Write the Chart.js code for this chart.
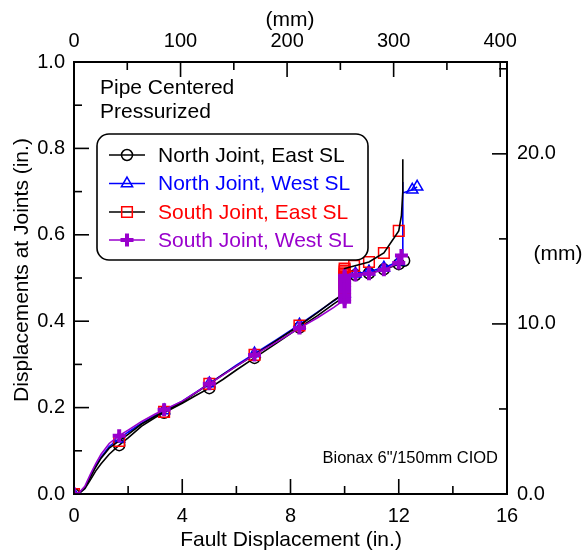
<!DOCTYPE html>
<html lang="en">
<head>
<meta charset="UTF-8">
<title>Displacements at Joints</title>
<script src="https://cdn.jsdelivr.net/npm/chart.js"></script>
<style>
  html, body { margin: 0; padding: 0; background: #fff; }
  #chart { display: block; }
</style>
</head>
<body>
<canvas id="chart" width="587" height="559"></canvas>
<script>

// fault displacement (in.) vs joint displacement (in.)
// lines are the full records, marks are the plotted symbols

// North Joint, East SL
const neLineX = [0, 0.2, 0.4, 0.6, 0.8, 1.0, 1.3, 1.67, 2.0, 2.5, 3.0, 3.33, 4.0, 4.5, 5.0, 5.5, 6.0, 6.67, 7.5, 8.33, 9.0, 9.6, 10.0, 10.03, 10.4, 10.9, 11.45, 12.0, 12.2];
const neLineY = [0, 0.002, 0.012, 0.032, 0.053, 0.07, 0.092, 0.113, 0.13, 0.157, 0.177, 0.188, 0.21, 0.228, 0.245, 0.265, 0.287, 0.315, 0.35, 0.385, 0.413, 0.44, 0.457, 0.5, 0.507, 0.511, 0.52, 0.532, 0.54];
const neMarkX = [0, 1.67, 3.33, 5.0, 6.67, 8.33, 10.0, 10.4, 10.9, 11.45, 12.0, 12.2];
const neMarkY = [0, 0.113, 0.188, 0.245, 0.315, 0.385, 0.457, 0.507, 0.511, 0.52, 0.532, 0.54];

// North Joint, West SL
const nwLineX = [0, 0.2, 0.4, 0.6, 0.8, 1.0, 1.3, 1.67, 2.0, 2.5, 3.0, 3.33, 4.0, 4.5, 5.0, 5.5, 6.0, 6.67, 7.5, 8.33, 9.0, 9.6, 10.0, 10.03, 10.4, 10.9, 11.45, 12.0, 12.15, 12.15, 12.15, 12.5, 12.68];
const nwLineY = [0, 0.003, 0.015, 0.04, 0.065, 0.085, 0.11, 0.128, 0.143, 0.164, 0.182, 0.193, 0.215, 0.235, 0.256, 0.277, 0.298, 0.325, 0.358, 0.392, 0.421, 0.447, 0.464, 0.503, 0.51, 0.515, 0.524, 0.538, 0.55, 0.722, 0.697, 0.704, 0.711];
const nwMarkX = [0, 1.67, 3.33, 5.0, 6.67, 8.33, 10.0, 10.4, 10.9, 11.45, 12.0, 12.5, 12.68];
const nwMarkY = [0, 0.128, 0.193, 0.256, 0.325, 0.392, 0.464, 0.51, 0.515, 0.524, 0.538, 0.704, 0.711];

// South Joint, East SL
const seLineX = [0, 0.2, 0.4, 0.6, 0.8, 1.0, 1.3, 1.67, 2.0, 2.5, 3.0, 3.33, 4.0, 4.5, 5.0, 5.5, 6.0, 6.67, 7.5, 8.33, 9.0, 9.6, 10.0, 10.0, 10.35, 10.9, 11.45, 12.0, 12.1, 12.15, 12.15];
const seLineY = [0, 0.003, 0.014, 0.038, 0.062, 0.083, 0.106, 0.123, 0.138, 0.162, 0.18, 0.19, 0.213, 0.234, 0.255, 0.276, 0.296, 0.322, 0.356, 0.39, 0.42, 0.448, 0.465, 0.522, 0.528, 0.537, 0.558, 0.609, 0.645, 0.7, 0.775];
const seMarkX = [0, 1.67, 3.33, 5.0, 6.67, 8.33, 10.0, 10.0, 10.0, 10.0, 10.0, 10.0, 10.0, 10.0, 10.0, 10.0, 10.0, 10.0, 10.0, 10.0, 10.35, 10.9, 11.45, 12.0];
const seMarkY = [0, 0.123, 0.19, 0.255, 0.322, 0.39, 0.47, 0.476, 0.482, 0.487, 0.491, 0.494, 0.497, 0.5, 0.503, 0.506, 0.509, 0.513, 0.517, 0.522, 0.528, 0.537, 0.558, 0.609];

// South Joint, West SL
const swLineX = [0, 0.2, 0.4, 0.6, 0.8, 1.0, 1.3, 1.67, 2.0, 2.5, 3.0, 3.33, 4.0, 4.5, 5.0, 5.5, 6.0, 6.67, 7.5, 8.33, 9.0, 9.6, 10.0, 10.0, 10.4, 10.9, 11.45, 12.0, 12.1];
const swLineY = [0, 0.004, 0.018, 0.045, 0.07, 0.092, 0.117, 0.135, 0.148, 0.168, 0.185, 0.195, 0.215, 0.235, 0.255, 0.275, 0.296, 0.322, 0.352, 0.384, 0.408, 0.432, 0.45, 0.505, 0.507, 0.51, 0.519, 0.535, 0.552];
const swMarkX = [0, 1.67, 3.33, 5.0, 6.67, 8.33, 10.0, 10.0, 10.0, 10.0, 10.0, 10.0, 10.0, 10.0, 10.0, 10.4, 10.9, 11.45, 12.0, 12.1];
const swMarkY = [0, 0.135, 0.195, 0.255, 0.322, 0.384, 0.445, 0.452, 0.46, 0.468, 0.476, 0.484, 0.492, 0.5, 0.505, 0.507, 0.51, 0.519, 0.535, 0.552];

// axis tick values
const xTicks = [0, 2, 4, 6, 8, 10, 12, 14, 16];
const yTicks = [0, 0.1, 0.2, 0.3, 0.4, 0.5, 0.6, 0.7, 0.8, 0.9, 1.0];
const mmTopTicks = [0, 50, 100, 150, 200, 250, 300, 350, 400];
const mmRightTicks = [0, 5, 10, 15, 20, 25];

const seriesNames = ['North Joint, East SL', 'North Joint, West SL', 'South Joint, East SL', 'South Joint, West SL'];
const noteLines = ['Pipe Centered', 'Pressurized'];
const pipeNote = 'Bionax 6"/150mm CIOD';

const FONT = "'Liberation Sans', Arial, sans-serif";
const PURPLE = '#9900cc';

function pts(xs, ys) {
  return xs.map((x, i) => ({ x: x, y: ys[i] }));
}

// symbol style per series, also used for the legend samples
const series = [
  { name: seriesNames[0], text: '#000', line: '#000', mark: '#000', style: 'circle', r: 5.5, bw: 1.5, order: 3 },
  { name: seriesNames[1], text: '#0000ff', line: '#0000ff', mark: '#0000ff', style: 'triangle', r: 6.5, bw: 1.5, order: 2 },
  { name: seriesNames[2], text: '#ff0000', line: '#000', mark: '#ff0000', style: 'rect', r: 7.5, bw: 1.5, order: 1 },
  { name: seriesNames[3], text: PURPLE, line: PURPLE, mark: PURPLE, style: 'cross', r: 6.5, bw: 4, order: 0 }
];
const lineData = [pts(neLineX, neLineY), pts(nwLineX, nwLineY), pts(seLineX, seLineY), pts(swLineX, swLineY)];
const markData = [pts(neMarkX, neMarkY), pts(nwMarkX, nwMarkY), pts(seMarkX, seMarkY), pts(swMarkX, swMarkY)];

const datasets = [];
series.forEach((s, i) => {
  datasets.push({
    label: s.name,
    data: lineData[i],
    borderColor: s.line,
    borderWidth: 1.6,
    pointRadius: 0,
    fill: false,
    tension: 0,
    order: s.order
  });
  datasets.push({
    label: s.name + ' marks',
    data: markData[i],
    showLine: false,
    pointStyle: s.style,
    pointRadius: s.r,
    pointBorderColor: s.mark,
    pointBackgroundColor: 'rgba(0,0,0,0)',
    pointBorderWidth: s.bw,
    order: s.order
  });
});

// inward tick marks, titles, notes and the rounded legend box
const decor = {
  id: 'decor',
  afterDraw(chart) {
    const ctx = chart.ctx;
    const a = chart.chartArea;
    ctx.save();

    // tick marks pointing into the plot
    ctx.strokeStyle = '#000';
    ctx.lineWidth = 1.6;
    ['x', 'x2', 'y', 'y2'].forEach(id => {
      const sc = chart.scales[id];
      sc.ticks.forEach(t => {
        const len = t.label === '' ? 8 : 15;
        const p = sc.getPixelForValue(t.value);
        ctx.beginPath();
        if (id === 'x') { ctx.moveTo(p, a.bottom); ctx.lineTo(p, a.bottom - len); }
        if (id === 'x2') { ctx.moveTo(p, a.top); ctx.lineTo(p, a.top + len); }
        if (id === 'y') { ctx.moveTo(a.left, p); ctx.lineTo(a.left + len, p); }
        if (id === 'y2') { ctx.moveTo(a.right, p); ctx.lineTo(a.right - len, p); }
        ctx.stroke();
      });
    });

    ctx.fillStyle = '#000';
    ctx.textBaseline = 'middle';

    // axis titles
    ctx.font = '21px ' + FONT;
    ctx.textAlign = 'center';
    ctx.fillText('Fault Displacement (in.)', 291, 540);
    ctx.fillText('(mm)', 290, 20);
    ctx.fillText('(mm)', 558, 254);
    ctx.save();
    ctx.translate(22, 270);
    ctx.rotate(-Math.PI / 2);
    ctx.fillText('Displacements at Joints (in.)', 0, 0);
    ctx.restore();

    // notes
    ctx.textAlign = 'left';
    ctx.fillText(noteLines[0], 100, 88);
    ctx.fillText(noteLines[1], 100, 112);
    ctx.font = '16.5px ' + FONT;
    ctx.textAlign = 'right';
    ctx.fillText(pipeNote, 498, 458);

    // legend
    const bx = 97, by = 134, bw = 271, bh = 126, rad = 12;
    ctx.beginPath();
    ctx.moveTo(bx + rad, by);
    ctx.arcTo(bx + bw, by, bx + bw, by + bh, rad);
    ctx.arcTo(bx + bw, by + bh, bx, by + bh, rad);
    ctx.arcTo(bx, by + bh, bx, by, rad);
    ctx.arcTo(bx, by, bx + bw, by, rad);
    ctx.closePath();
    ctx.fillStyle = '#fff';
    ctx.fill();
    ctx.lineWidth = 1.6;
    ctx.strokeStyle = '#000';
    ctx.stroke();

    ctx.font = '21px ' + FONT;
    ctx.textAlign = 'left';
    const rows = [155, 183.5, 212, 240];
    series.forEach((s, i) => {
      const y = rows[i];
      ctx.strokeStyle = s.line;
      ctx.lineWidth = 1.6;
      ctx.beginPath();
      ctx.moveTo(109, y);
      ctx.lineTo(145, y);
      ctx.stroke();
      ctx.strokeStyle = s.mark;
      ctx.fillStyle = 'rgba(0,0,0,0)';
      ctx.lineWidth = s.bw;
      Chart.helpers.drawPoint(ctx, { pointStyle: s.style, radius: s.r, rotation: 0, borderWidth: s.bw }, 127, y);
      ctx.fillStyle = s.text;
      ctx.fillText(s.name, 158, y + 1);
    });

    ctx.restore();
  }
};

const axisBorder = { display: true, color: '#000', width: 2 };
const tickFont = { family: FONT, size: 20 };
const asTicks = vals => vals.map(v => ({ value: v }));

new Chart(document.getElementById('chart'), {
  type: 'line',
  data: { datasets: datasets },
  options: {
    responsive: false,
    animation: false,
    devicePixelRatio: 1,
    layout: { padding: 0 },
    plugins: { legend: { display: false }, tooltip: { enabled: false } },
    scales: {
      x: {
        type: 'linear', position: 'bottom', min: 0, max: 16,
        afterBuildTicks: s => { s.ticks = asTicks(xTicks); },
        ticks: { color: '#000', font: tickFont, padding: 10, maxRotation: 0, autoSkip: false,
          callback: v => (Math.round(v) % 4 === 0 ? String(Math.round(v)) : '') },
        grid: { display: false, drawTicks: false },
        border: axisBorder,
        afterFit: s => { s.height = 65; }
      },
      x2: {
        type: 'linear', position: 'top', min: 0, max: 406.4,
        afterBuildTicks: s => { s.ticks = asTicks(mmTopTicks); },
        ticks: { color: '#000', font: tickFont, padding: 9, maxRotation: 0, autoSkip: false,
          callback: v => (Math.round(v) % 100 === 0 ? String(Math.round(v)) : '') },
        grid: { display: false, drawTicks: false },
        border: axisBorder,
        afterFit: s => { s.height = 62; }
      },
      y: {
        type: 'linear', position: 'left', min: 0, max: 1,
        afterBuildTicks: s => { s.ticks = asTicks(yTicks); },
        ticks: { color: '#000', font: tickFont, padding: 9, autoSkip: false,
          callback: v => (Math.round(v * 10) % 2 === 0 ? v.toFixed(1) : '') },
        grid: { display: false, drawTicks: false },
        border: axisBorder,
        afterFit: s => { s.width = 74; }
      },
      y2: {
        type: 'linear', position: 'right', min: 0, max: 25.4,
        afterBuildTicks: s => { s.ticks = asTicks(mmRightTicks); },
        ticks: { color: '#000', font: tickFont, padding: 10, autoSkip: false,
          callback: v => (Math.round(v) % 10 === 0 ? v.toFixed(1) : '') },
        grid: { display: false, drawTicks: false },
        border: axisBorder,
        afterFit: s => { s.width = 80; }
      }
    }
  },
  plugins: [decor]
});
</script>
</body>
</html>
